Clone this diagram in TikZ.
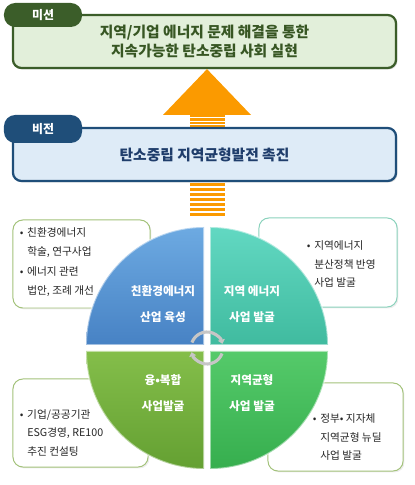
\documentclass[tikz,border=0pt]{standalone}
\usepackage{fontspec}
\setmainfont{Noto Sans CJK KR}
\usepackage{tikz}
\usetikzlibrary{positioning,calc,arrows.meta,shadows}
\definecolor{MissionGreen}{HTML}{3B5D29}
\definecolor{MissionFill}{HTML}{E2EFDA}
\definecolor{MissionText}{HTML}{375623}
\definecolor{VisionBlue}{HTML}{1F4E79}
\definecolor{VisionFill}{HTML}{DEEBF7}
\definecolor{VisionText}{HTML}{1F3D6B}
\definecolor{ArrowOrange}{HTML}{FB9A00}
\definecolor{OliveLine}{HTML}{A3C27A}
\definecolor{TealLine}{HTML}{8AD2BC}
\definecolor{BlueTop}{HTML}{6DAAE2}
\definecolor{BlueBot}{HTML}{4782C4}
\definecolor{TealTop}{HTML}{62D8C2}
\definecolor{TealBot}{HTML}{40BB9F}
\definecolor{OliveTop}{HTML}{84BE4A}
\definecolor{OliveBot}{HTML}{64A032}
\definecolor{GreenTop}{HTML}{55CA6A}
\definecolor{GreenBot}{HTML}{36AE4E}
\tikzset{
  topbox/.style={rectangle, rounded corners=6pt, line width=1.6pt,
    minimum width=9.575cm, minimum height=1.325cm, align=center,
    drop shadow={opacity=0.3, shadow xshift=1pt, shadow yshift=-1pt}},
  tab/.style={rectangle, rounded corners=8pt, minimum width=1.95cm,
    text=white, font=\fontsize{8.5}{10}\selectfont\bfseries},
  callout/.style={rectangle, rounded corners=7pt, fill=white, line width=0.7pt,
    drop shadow={opacity=0.15, shadow xshift=1pt, shadow yshift=-1pt}},
  bullettext/.style={anchor=west, align=left, inner sep=0pt, text=black!85,
    font=\fontsize{7.6}{13.2}\selectfont},
  quadtext/.style={align=center, text=white, font=\fontsize{8.3}{18.4}\selectfont\bfseries},
  quadedge/.style={draw=white, draw opacity=0.5, line width=1.3pt},
  cyclearc/.style={draw=gray!45, line width=2.2pt, -{Triangle[length=3pt,width=5pt]}}
}
\newcommand{\bul}{\makebox[0.7em][l]{•}}
\newcommand{\ind}{\hspace*{0.7em}}

\begin{document}
\begin{tikzpicture}[x=0.025cm, y=0.025cm]
  \useasboundingbox (0,0) rectangle (414,485);
  \coordinate (hub) at (207,137);

  % callouts behind the pie
  \node[callout, draw=OliveLine, minimum width=3.425cm, minimum height=2.2cm] (boxTL) at (81.5,221) {};
  \node[callout, draw=TealLine, minimum width=3.45cm, minimum height=2.225cm] (boxTR) at (328,222.5) {};
  \node[callout, draw=OliveLine, minimum width=3.375cm, minimum height=2.2cm] (boxBL) at (80.5,62) {};
  \node[callout, draw=OliveLine, minimum width=3.375cm, minimum height=2.2cm] (boxBR) at (335.5,58) {};
  \node[bullettext] (txtTL) at ([xshift=0.175cm, yshift=0.05cm]boxTL.west)
    {\bul 친환경에너지\\\ind 학술, 연구사업\\[1.5pt]\bul 에너지 관련\\\ind 법안, 조례 개선};
  \node[bullettext] (txtTR) at ([xshift=1.2cm, yshift=-0.04cm]boxTR.west)
    {\bul 지역에너지\\\ind 분산정책 반영\\\ind 사업 발굴};
  \node[bullettext] (txtBL) at ([xshift=0.175cm, yshift=-0.25cm]boxBL.west)
    {\bul 기업/공공기관\\\ind ESG경영, RE100\\\ind 추진 컨설팅};
  \node[bullettext] (txtBR) at ([xshift=1.125cm, yshift=-0.25cm]boxBR.west)
    {\bul 정부• 지자체\\\ind 지역균형 뉴딜\\\ind 사업 발굴};

  % pie quarters
  \shade[top color=BlueTop, bottom color=BlueBot]
    ($(hub)+(-3,3)$) -- ++(-118,0) arc[start angle=180, end angle=90, radius=118] -- cycle;
  \draw[quadedge] ($(hub)+(-3,3)$) -- ++(-118,0) arc[start angle=180, end angle=90, radius=118] -- cycle;
  \shade[top color=TealTop, bottom color=TealBot]
    ($(hub)+(3,3)$) -- ++(0,118) arc[start angle=90, end angle=0, radius=118] -- cycle;
  \draw[quadedge] ($(hub)+(3,3)$) -- ++(0,118) arc[start angle=90, end angle=0, radius=118] -- cycle;
  \shade[top color=OliveTop, bottom color=OliveBot]
    ($(hub)+(-3,-3)$) -- ++(0,-118) arc[start angle=270, end angle=180, radius=118] -- cycle;
  \draw[quadedge] ($(hub)+(-3,-3)$) -- ++(0,-118) arc[start angle=270, end angle=180, radius=118] -- cycle;
  \shade[top color=GreenTop, bottom color=GreenBot]
    ($(hub)+(3,-3)$) -- ++(118,0) arc[start angle=0, end angle=-90, radius=118] -- cycle;
  \draw[quadedge] ($(hub)+(3,-3)$) -- ++(118,0) arc[start angle=0, end angle=-90, radius=118] -- cycle;

  \node[quadtext] (qTL) at ($(hub)+(-44,44)$) {친환경에너지\\산업 육성};
  \node[quadtext] (qTR) at ($(hub)+(45,44)$) {지역 에너지\\사업 발굴};
  \node[quadtext] (qBL) at ($(hub)+(-44,-45)$) {융•복합\\사업발굴};
  \node[quadtext] (qBR) at ($(hub)+(45,-45)$) {지역균형\\사업 발굴};

  % centre cycle arrows
  \draw[cyclearc] ($(hub)+(160:16)$) arc[start angle=160, end angle=15, radius=16];
  \draw[cyclearc] ($(hub)+(-20:16)$) arc[start angle=-20, end angle=-165, radius=16];

  % big arrow
  \foreach \k in {0,...,6}
    \fill[ArrowOrange] ($(hub)+(-17.5,165-5*\k)$) rectangle ++(35,-3);
  \foreach \k in {0,...,3}
    \fill[ArrowOrange] ($(hub)+(-17.5,233-3.4*\k)$) rectangle ++(35,-2.4);

  % vision
  \node[topbox, draw=VisionBlue, fill=VisionFill, text=VisionText,
    font=\fontsize{10.5}{13.5}\selectfont\bfseries] (vision) at (204.5,330.5) {탄소중립 지역균형발전 촉진};
  \node[tab, fill=VisionBlue, minimum height=0.7cm] (visiontab) at (43,356) {비전};

  % mission
  \node[topbox, draw=MissionGreen, fill=MissionFill, text=MissionText,
    font=\fontsize{10.5}{13.5}\selectfont\bfseries] (mission) at (204.5,443.5)
    {지역/기업 에너지 문제 해결을 통한\\지속가능한 탄소중립 사회 실현};
  \node[tab, fill=MissionGreen, minimum height=0.6cm] (missiontab) at (43,470) {미션};

  \fill[ArrowOrange] (hub |- mission.south) -- ($(hub)+(44,233)$) -- ($(hub)+(-44,233)$) -- cycle;
\end{tikzpicture}
\end{document}
